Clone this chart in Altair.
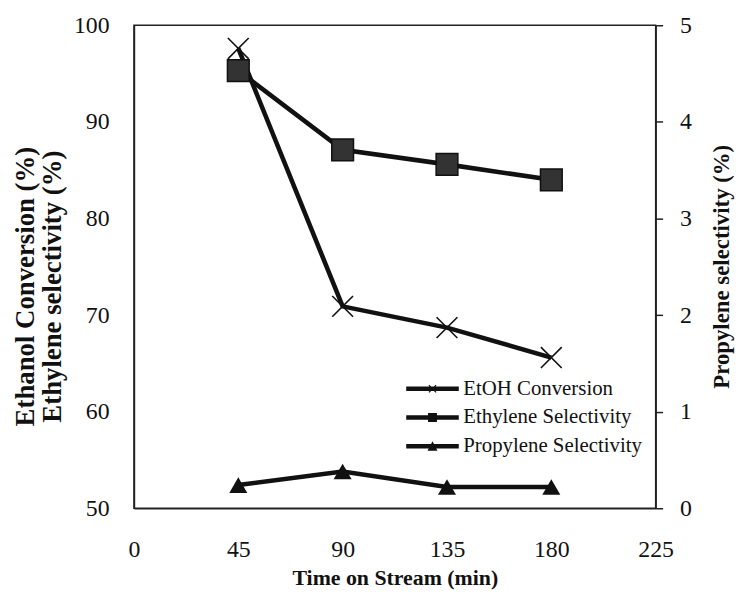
import altair as alt
import pandas as pd

# ---- data ----
time_min = [45, 90, 135, 180]
etoh_conversion = [97.6, 70.9, 68.7, 65.6]
ethylene_selectivity = [95.3, 87.1, 85.6, 84.0]
propylene_selectivity = [0.24, 0.38, 0.22, 0.22]
series_names = ["EtOH Conversion", "Ethylene Selectivity", "Propylene Selectivity"]
x_ticks = [0, 45, 90, 135, 180, 225]
left_ticks = [50, 60, 70, 80, 90, 100]
right_ticks = [0, 1, 2, 3, 4, 5]

df = pd.DataFrame({
    "time": time_min,
    "etoh": etoh_conversion,
    "ethylene": ethylene_selectivity,
    "propylene": propylene_selectivity,
})
legend_df = pd.DataFrame({"series": series_names})

FONT = "Liberation Serif"
INK = "#111111"

# legend symbols (filled outlines): a thick line with the series marker on it
LINE = "M-1,-0.22H4.3V0.22H-1Z"
legend_paths = [
    LINE + "M1.25,-0.32L1.33,-0.4L2.05,0.32L1.97,0.4Z"
         + "M1.25,0.32L1.97,-0.4L2.05,-0.32L1.33,0.4Z",
    LINE + "M1.2,-0.45H2.1V0.45H1.2Z",
    LINE + "M1.15,0.45L1.65,-0.5L2.15,0.45Z",
]
x_cross = "M-1,-1L1,1M-1,1L1,-1"

x_enc = alt.X(
    "time:Q",
    scale=alt.Scale(domain=[0, 225], nice=False, zero=False),
    axis=alt.Axis(
        values=x_ticks, ticks=False, tickSize=0, grid=False,
        domainColor="#222222", domainWidth=1.5,
        labelFont=FONT, labelFontSize=24, labelColor=INK, labelPadding=30,
        labelFlush=False,
        title="Time on Stream (min)", titleFont=FONT, titleFontSize=22,
        titleFontWeight="bold", titleColor=INK,
        titleX=263, titleY=77, titleAlign="center", titleBaseline="alphabetic",
    ),
)

left_axis = alt.Axis(
    values=left_ticks, ticks=False, tickSize=0, grid=False,
    domainColor="#222222", domainWidth=1.5,
    labelFont=FONT, labelFontSize=24, labelColor=INK, labelPadding=25,
    labelFlush=False,
    title=["Ethanol Conversion (%)", "Ethylene selectivity (%)"],
    titleFont=FONT, titleFontSize=27, titleFontWeight="bold", titleColor=INK,
    titleAngle=270, titleX=-101, titleY=263, titleAlign="center",
    titleBaseline="alphabetic", titleLineHeight=27,
)
left_scale = alt.Scale(domain=[50, 100], nice=False, zero=False)

right_axis = alt.Axis(
    orient="right", values=right_ticks, ticks=True, tickSize=7, tickWidth=1.5,
    tickColor="#222222", grid=False,
    domainColor="#222222", domainWidth=1.5,
    labelFont=FONT, labelFontSize=24, labelColor=INK, labelPadding=17,
    labelFlush=False,
    title="Propylene selectivity (%)",
    titleFont=FONT, titleFontSize=23, titleFontWeight="bold", titleColor=INK,
    titleAngle=270, titleX=73, titleY=243, titleAlign="center",
    titleBaseline="alphabetic",
)
right_scale = alt.Scale(domain=[0, 5], nice=False, zero=False)

base = alt.Chart(df)

etoh_line = base.mark_line(color=INK, strokeWidth=4.6).encode(
    x=x_enc, y=alt.Y("etoh:Q", scale=left_scale, axis=left_axis))
eth_line = base.mark_line(color=INK, strokeWidth=4.6).encode(
    x=x_enc, y=alt.Y("ethylene:Q", scale=left_scale, axis=left_axis))
etoh_pts = base.mark_point(shape=x_cross, size=440, filled=False, color=INK,
                           strokeWidth=1.6, opacity=1).encode(
    x=x_enc, y=alt.Y("etoh:Q", scale=left_scale, axis=left_axis))
eth_pts = base.mark_square(size=480, color="#333333", stroke=INK,
                           strokeWidth=1.5, opacity=1).encode(
    x=x_enc, y=alt.Y("ethylene:Q", scale=left_scale, axis=left_axis))

legend_layer = alt.Chart(legend_df).mark_point(
    filled=True, color=INK, opacity=0
).encode(
    shape=alt.Shape(
        "series:N",
        scale=alt.Scale(domain=series_names, range=legend_paths),
        legend=alt.Legend(
            title=None, orient="none", legendX=274, legendY=356,
            symbolSize=400, symbolStrokeWidth=0,
            symbolFillColor=INK, symbolOpacity=1,
            labelFont=FONT, labelFontSize=21, labelColor=INK, labelLimit=0,
            labelOffset=37, rowPadding=7, padding=0,
        ),
    )
)

left = alt.layer(etoh_line, eth_line, etoh_pts, eth_pts, legend_layer)

prop_line = base.mark_line(color=INK, strokeWidth=4.6).encode(
    x=x_enc, y=alt.Y("propylene:Q", scale=right_scale, axis=right_axis))
prop_pts = base.mark_point(shape="triangle-up", size=330, filled=True,
                           color=INK, opacity=1).encode(
    x=x_enc, y=alt.Y("propylene:Q", scale=right_scale, axis=right_axis))
right = alt.layer(prop_line, prop_pts)

chart = (
    alt.layer(left, right)
    .resolve_scale(y="independent")
    .properties(
        width=526, height=487,
        autosize=alt.AutoSizeParams(type="none"),
        padding={"left": 127, "top": 15, "right": 81, "bottom": 80},
        background="white",
    )
    .configure_view(stroke="#222222", strokeWidth=1.5)
)

chart.save("out.html", embed_options={"renderer": "svg", "actions": False})
